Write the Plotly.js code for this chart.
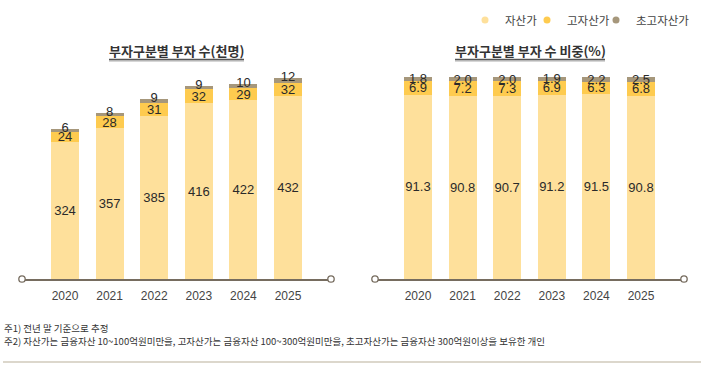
<!DOCTYPE html>
<html>
<head>
<meta charset="utf-8">
<script src="https://cdn.plot.ly/plotly-3.0.1.min.js"></script>
<style>html,body{margin:0;padding:0;background:#fff;}#chart{width:701px;height:376px;}</style>
</head>
<body>
<div id="chart"></div>
<script>
// ---- data ----
const years = ['2020', '2021', '2022', '2023', '2024', '2025'];
const seriesNames = ['자산가', '고자산가', '초고자산가'];
const countWealthy = [324, 357, 385, 416, 422, 432];
const countHigh = [24, 28, 31, 32, 29, 32];
const countUltra = [6, 8, 9, 9, 10, 12];
const shareWealthy = [91.3, 90.8, 90.7, 91.2, 91.5, 90.8];
const shareHigh = [6.9, 7.2, 7.3, 6.9, 6.3, 6.8];
const shareUltra = [1.8, 2.0, 2.0, 1.9, 2.2, 2.5];
const titleLeft = '부자구분별 부자 수(천명)';
const titleRight = '부자구분별 부자 수 비중(%)';
const note1 = '주1) 전년 말 기준으로 추정';
const note2 = '주2) 자산가는 금융자산 10~100억원미만을, 고자산가는 금융자산 100~300억원미만을, 초고자산가는 금융자산 300억원이상을 보유한 개인';

// ---- style ----
const colors = ['#FEE09B', '#FECB4F', '#A6977B'];
const numFont = 'Liberation Sans, Arial, sans-serif';
const krFont = 'Noto Sans CJK KR, Noto Sans, sans-serif';
const axisColor = '#766C5F';
const labelFont = {family: numFont, size: 13, color: '#2a2a2a'};

function barTrace(vals, i, xa, ya, fmt) {
  return {
    type: 'bar', x: years, y: vals, name: seriesNames[i], xaxis: xa, yaxis: ya,
    marker: {color: colors[i], line: {width: 0}},
    width: 0.63, showlegend: false, hoverinfo: 'skip',
    texttemplate: fmt, textposition: fmt ? 'inside' : 'none', insidetextanchor: 'middle',
    textangle: 0, cliponaxis: false,
    textfont: labelFont
  };
}
const leftTotals = years.map((_, k) => countWealthy[k] + countHigh[k] + countUltra[k]);
const data = [
  barTrace(countWealthy, 0, 'x', 'y', '%{y}'),
  barTrace(countHigh, 1, 'x', 'y', '%{y}'),
  barTrace(countUltra, 2, 'x', 'y', ''),
  barTrace(shareWealthy, 0, 'x2', 'y2', '%{y:.1f}'),
  barTrace(shareHigh, 1, 'x2', 'y2', '%{y:.1f}'),
  barTrace(shareUltra, 2, 'x2', 'y2', '%{y:.1f}'),
  // labels of the top (초고자산가) segment in the left chart, centred on the bar top
  {type: 'scatter', mode: 'text', x: years, y: leftTotals, text: countUltra.map(String),
   textposition: 'middle center', textfont: labelFont, xaxis: 'x', yaxis: 'y',
   showlegend: false, hoverinfo: 'skip', cliponaxis: false}
];
// legend-only entries (circle symbols), one legend box each for exact spacing
const legendIds = ['legend', 'legend2', 'legend3'];
seriesNames.forEach((n, i) => data.push({
  type: 'scatter', mode: 'markers', x: [null], y: [null], name: n, legend: legendIds[i],
  marker: {color: colors[i], size: 7, symbol: 'circle'}, showlegend: true, hoverinfo: 'skip'
}));

const W = 701, H = 376;
const px = v => v / W, py = v => (H - v) / H;
const xr = [-0.964, 5.964];
const axisCommon = {
  type: 'category', range: xr, showgrid: false, zeroline: false,
  showline: true, linecolor: axisColor, linewidth: 1.5, ticks: '', ticklabelstandoff: 5,
  tickfont: {family: numFont, size: 12, color: '#444'}, fixedrange: true
};
const yCommon = {showgrid: false, zeroline: false, showline: false, showticklabels: false, fixedrange: true, domain: [py(279), py(70)]};

const shapes = [];
function endCircle(xpx) {
  shapes.push({type: 'circle', xref: 'paper', yref: 'paper', xsizemode: 'pixel', ysizemode: 'pixel',
    xanchor: px(xpx), yanchor: py(279), x0: -3.2, x1: 3.2, y0: -3.2, y1: 3.2,
    line: {color: axisColor, width: 1.3}, fillcolor: '#fff', layer: 'above'});
}
[22, 331, 375, 684].forEach(endCircle);
function underline(x0, x1) {
  shapes.push({type: 'line', xref: 'paper', yref: 'paper', x0: px(x0), x1: px(x1), y0: py(61), y1: py(61), line: {color: '#c9c9c9', width: 1.5}});
  shapes.push({type: 'line', xref: 'paper', yref: 'paper', x0: px(x0), x1: px(x1), y0: py(59.5), y1: py(59.5), line: {color: '#555', width: 1.5}});
}
underline(109, 244);
underline(455, 605);
shapes.push({type: 'line', xref: 'paper', yref: 'paper', x0: px(3), x1: px(701), y0: py(362), y1: py(362), line: {color: '#dcd7cc', width: 2}});

const annotations = [
  {text: '<b>' + titleLeft + '</b>', xref: 'paper', yref: 'paper', x: px(176.5), y: py(51), showarrow: false, xanchor: 'center', yanchor: 'middle', font: {family: krFont, size: 13, color: '#333'}},
  {text: '<b>' + titleRight + '</b>', xref: 'paper', yref: 'paper', x: px(530), y: py(51), showarrow: false, xanchor: 'center', yanchor: 'middle', font: {family: krFont, size: 13, color: '#333'}},
  {text: note1, xref: 'paper', yref: 'paper', x: px(2), y: py(328), showarrow: false, xanchor: 'left', yanchor: 'middle', font: {family: krFont, size: 9.5, color: '#333'}},
  {text: note2, xref: 'paper', yref: 'paper', x: px(2), y: py(341), showarrow: false, xanchor: 'left', yanchor: 'middle', font: {family: krFont, size: 9.5, color: '#333'}}
];

function legendBox(xpx) {
  return {orientation: 'h', x: px(xpx), xanchor: 'left', y: py(20), yanchor: 'middle',
    font: {family: krFont, size: 11.5, color: '#444'}, bgcolor: 'rgba(0,0,0,0)'};
}

const layout = {
  width: W, height: H, margin: {l: 0, r: 0, t: 0, b: 0},
  paper_bgcolor: '#fff', plot_bgcolor: 'rgba(0,0,0,0)',
  barmode: 'stack', bargap: 0,
  uniformtext: {mode: 'show', minsize: 13},
  xaxis: Object.assign({}, axisCommon, {domain: [px(22), px(331)], anchor: 'y'}),
  yaxis: Object.assign({}, yCommon, {range: [0, 494], anchor: 'x'}),
  xaxis2: Object.assign({}, axisCommon, {domain: [px(375), px(684)], anchor: 'y2'}),
  yaxis2: Object.assign({}, yCommon, {range: [0, 103.5], anchor: 'x2'}),
  showlegend: true,
  legend: legendBox(465),
  legend2: legendBox(527),
  legend3: legendBox(596),
  shapes: shapes, annotations: annotations
};
Plotly.newPlot('chart', data, layout, {displayModeBar: false, staticPlot: true});
</script>
</body>
</html>
